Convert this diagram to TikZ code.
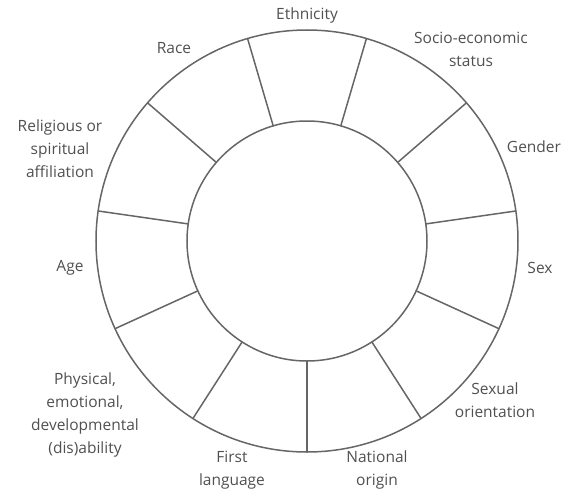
\documentclass[tikz,border=0pt]{standalone}
\usepackage{fontspec}
\setmainfont{Open Sans}
\definecolor{wheelgray}{HTML}{666666}
\definecolor{textgray}{HTML}{505050}

\begin{document}
\begin{tikzpicture}

\tikzset{ring/.style = {draw=wheelgray, line width=1.5pt}}
\tikzset{spoke/.style = {draw=wheelgray, line width=1.5pt, line cap=round}}
\tikzset{factor/.style = {align=center, text=textgray, inner sep=0pt, font=\fontsize{15.5}{23}\selectfont}}
\useasboundingbox (-307pt,-252pt) rectangle (258pt,241pt);
%circles
\coordinate (c) at (0,0);
\draw[ring] (c) circle (211pt);
\draw[ring] (c) circle (120pt);
%spokes
\draw[spoke] (270:120pt) -- (270:211pt);
\draw[spoke] (302.73:120pt) -- (302.73:211pt);
\draw[spoke] (335.45:120pt) -- (335.45:211pt);
\draw[spoke] (8.18:120pt) -- (8.18:211pt);
\draw[spoke] (40.91:120pt) -- (40.91:211pt);
\draw[spoke] (73.64:120pt) -- (73.64:211pt);
\draw[spoke] (106.36:120pt) -- (106.36:211pt);
\draw[spoke] (139.09:120pt) -- (139.09:211pt);
\draw[spoke] (171.82:120pt) -- (171.82:211pt);
\draw[spoke] (204.55:120pt) -- (204.55:211pt);
\draw[spoke] (237.27:120pt) -- (237.27:211pt);
%labels
\node[factor] (ethnicity) at (0pt,226pt) {Ethnicity};
\node[factor] (socio) at (164pt,192pt) {Socio-economic\\status};
\node[factor] (gender) at (227pt,94pt) {Gender};
\node[factor] (sex) at (233pt,-27pt) {Sex};
\node[factor] (orientation) at (188pt,-159pt) {Sexual\\orientation};
\node[factor] (origin) at (70pt,-229pt) {National\\origin};
\node[factor] (language) at (-75pt,-229pt) {First\\language};
\node[factor] (ability) at (-222pt,-174pt) {Physical,\\emotional,\\developmental\\(dis)ability};
\node[factor] (age) at (-237pt,-27pt) {Age};
\node[factor] (religion) at (-247pt,92pt) {Religious or\\spiritual\\affiliation};
\node[factor] (race) at (-133pt,193pt) {Race};

\end{tikzpicture}
\end{document}
